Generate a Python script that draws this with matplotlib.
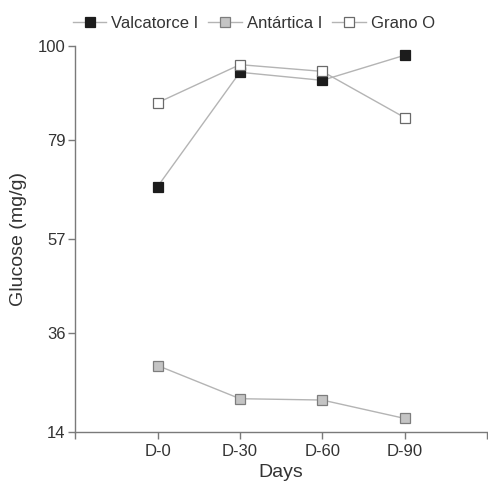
import matplotlib
matplotlib.use("Agg")
import matplotlib.pyplot as plt

plt.rcParams["font.family"] = ["Liberation Sans", "DejaVu Sans"]

days = ["D-0", "D-30", "D-60", "D-90"]
valcatorce = [68.7, 94.2, 92.4, 98.0]
antartica = [28.8, 21.4, 21.1, 17.0]
grano = [87.4, 95.9, 94.4, 84.1]
yticks = [14, 36, 57, 79, 100]

axis_col = "#7a7a7a"
line_col = "#b4b4b4"
text_col = "#333333"

fig = plt.figure(figsize=(4.88, 4.82), dpi=100)
ax = fig.add_axes([0.154, 0.104, 0.844, 0.800])

x = list(range(len(days)))
common = dict(color=line_col, linewidth=1.0, marker="s", markersize=7, markeredgewidth=0.9)
ax.plot(x, valcatorce, label="Valcatorce I", markerfacecolor="#1c1c1c",
        markeredgecolor="#1c1c1c", **common)
ax.plot(x, antartica, label="Antártica I", markerfacecolor="#c4c4c4",
        markeredgecolor="#7d7d7d", **common)
ax.plot(x, grano, label="Grano O", markerfacecolor="white",
        markeredgecolor="#6a6a6a", **common)

ax.set_xlim(-1, 4)
ax.set_ylim(14, 100)
ax.set_xticks([-1] + x + [4])
ax.set_xticklabels([""] + days + [""])
ax.set_yticks(yticks)

for side in ["top", "right"]:
    ax.spines[side].set_visible(False)
for side in ["left", "bottom"]:
    ax.spines[side].set_color(axis_col)
    ax.spines[side].set_linewidth(1.0)

ax.tick_params(axis="both", colors=axis_col, length=5, width=1.0,
               labelsize=12, labelcolor=text_col)
ax.tick_params(axis="x", pad=4)
ax.tick_params(axis="y", pad=2)
ax.set_xlabel("Days", fontsize=14, color=text_col, labelpad=3)
ax.set_ylabel("Glucose (mg/g)", fontsize=14, color=text_col, labelpad=8)

fig.legend(loc="upper center", bbox_to_anchor=(0.52, 0.998), ncol=3,
           frameon=False, fontsize=12, handlelength=2.0, handletextpad=0.3,
           columnspacing=0.6, labelcolor=text_col)

fig.savefig("out.png", dpi=100)
